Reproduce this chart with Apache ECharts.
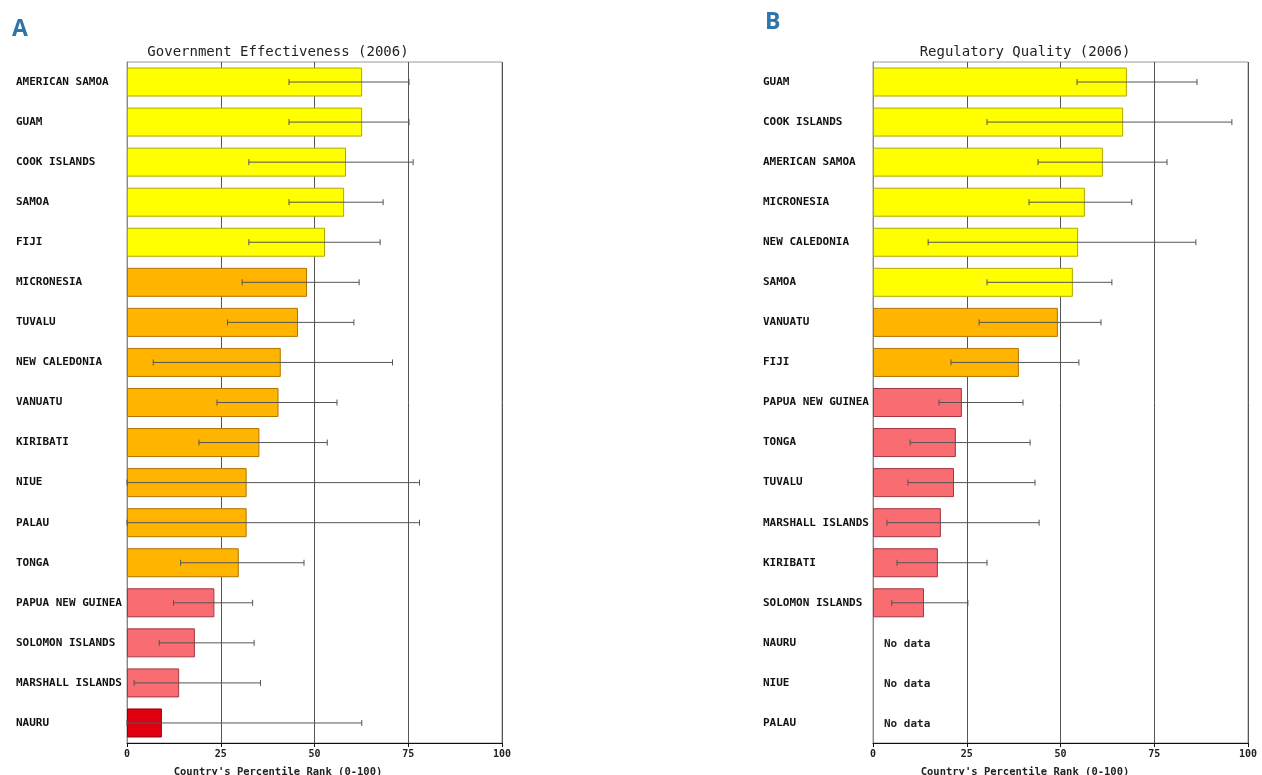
<!DOCTYPE html>
<html><head><meta charset="utf-8">
<script src="https://cdn.jsdelivr.net/npm/echarts@6/dist/echarts.min.js"></script>
<style>html,body{margin:0;padding:0;background:#fff}#c{width:1262px;height:775px}</style>
</head><body><div id="c"></div>
<script>
// Panel A: Government Effectiveness (2006)
const countriesA = ['AMERICAN SAMOA','GUAM','COOK ISLANDS','SAMOA','FIJI','MICRONESIA','TUVALU','NEW CALEDONIA','VANUATU','KIRIBATI','NIUE','PALAU','TONGA','PAPUA NEW GUINEA','SOLOMON ISLANDS','MARSHALL ISLANDS','NAURU'];
const rankA = [62.7,62.7,58.4,57.9,52.8,48.0,45.6,41.0,40.4,35.3,31.9,31.9,29.8,23.3,18.1,13.9,9.3];
const lowA  = [43.2,43.2,32.5,43.2,32.5,30.7,26.8,7.0,24.0,19.2,0.0,0.0,14.3,12.4,8.6,1.9,0.0];
const highA = [75.2,75.2,76.3,68.3,67.5,61.9,60.5,70.8,56.0,53.4,78.0,78.0,47.2,33.5,33.9,35.6,62.6];
const tierA = [1,1,1,1,1,2,2,2,2,2,2,2,2,3,3,3,4];

// Panel B: Regulatory Quality (2006)
const countriesB = ['GUAM','COOK ISLANDS','AMERICAN SAMOA','MICRONESIA','NEW CALEDONIA','SAMOA','VANUATU','FIJI','PAPUA NEW GUINEA','TONGA','TUVALU','MARSHALL ISLANDS','KIRIBATI','SOLOMON ISLANDS','NAURU','NIUE','PALAU'];
const rankB = [67.7,66.7,61.3,56.5,54.7,53.3,49.3,38.9,23.7,22.1,21.6,18.1,17.3,13.6,null,null,null];
const lowB  = [54.4,30.4,44.0,41.6,14.7,30.4,28.3,20.8,17.6,9.9,9.3,3.7,6.4,5.0,null,null,null];
const highB = [86.4,95.7,78.4,69.0,86.1,63.7,60.8,54.9,40.0,41.9,43.2,44.3,30.4,25.3,null,null,null];
const tierB = [1,1,1,1,1,1,2,2,3,3,3,3,3,3,0,0,0];

const xTicks = [0,25,50,75,100];
const titleA = 'Government Effectiveness (2006)';
const titleB = 'Regulatory Quality (2006)';
const xName = "Country's Percentile Rank (0-100)";

const fill = {1:'#FFFF00',2:'#FFB400',3:'#F86C72',4:'#E00010'};
const border = {1:'#B0A800',2:'#B07400',3:'#A03840',4:'#900008'};
const mono = '"DejaVu Sans Mono", "Liberation Mono", monospace';

function barData(vals, tiers){
  return vals.map((v,i)=> v==null ? null : {value:v, itemStyle:{color:fill[tiers[i]], borderColor:border[tiers[i]], borderWidth:1}});
}
function errData(lo, hi){
  const out=[];
  lo.forEach((l,i)=>{ if(l!=null) out.push([l, hi[i], i]); });
  return out;
}
function errRender(params, api){
  const y = api.value(2);
  const p1 = api.coord([api.value(0), y]);
  const p2 = api.coord([api.value(1), y]);
  const st = {stroke:'#555', lineWidth:1};
  return {type:'group', children:[
    {type:'line', shape:{x1:p1[0],y1:p1[1],x2:p2[0],y2:p2[1]}, style:st},
    {type:'line', shape:{x1:p1[0],y1:p1[1]-3,x2:p1[0],y2:p1[1]+3}, style:st},
    {type:'line', shape:{x1:p2[0],y1:p2[1]-3,x2:p2[0],y2:p2[1]+3}, style:st}
  ]};
}
function noDataRender(params, api){
  const p = api.coord([0, api.value(1)]);
  return {type:'text', style:{text:'No data', x:p[0]+11, y:p[1]+1, fill:'#222', font:'bold 11px '+mono, textVerticalAlign:'middle'}};
}
const noDataB = [];
rankB.forEach((v,i)=>{ if(v==null) noDataB.push([0,i]); });

function xAxis(g){
  return {type:'value', gridIndex:g, min:0, max:100, interval:25,
    axisLine:{show:true, lineStyle:{color:'#111'}},
    axisTick:{show:true, length:4, lineStyle:{color:'#111'}},
    axisLabel:{color:'#222', fontFamily:mono, fontSize:10, fontWeight:'bold', margin:6,
      formatter:(v)=> xTicks.indexOf(v)>=0 ? String(v) : ''},
    splitLine:{show:true, lineStyle:{color:'#555', width:1}}};
}
function yAxis(g, cats, margin){
  return {type:'category', gridIndex:g, data:cats, inverse:true,
    axisLine:{show:true, lineStyle:{color:'#888'}}, axisTick:{show:false},
    axisLabel:{align:'left', margin:margin, color:'#111', fontFamily:mono, fontSize:11, fontWeight:'bold'}};
}

const chart = echarts.init(document.getElementById('c'));
chart.setOption({
  animation:false,
  backgroundColor:'#fff',
  title:[
    {text:'A', left:7, top:13, textStyle:{color:'#2E75A8', fontFamily:'"Open Sans", sans-serif', fontWeight:'bold', fontSize:23}},
    {text:'B', left:760, top:6, textStyle:{color:'#2E75A8', fontFamily:'"Open Sans", sans-serif', fontWeight:'bold', fontSize:23}},
    {text:titleA, left:273, top:40, textAlign:'center', textStyle:{color:'#222', fontFamily:mono, fontSize:14, fontWeight:'normal'}},
    {text:titleB, left:1020, top:40, textAlign:'center', textStyle:{color:'#222', fontFamily:mono, fontSize:14, fontWeight:'normal'}},
    {text:xName, left:273, top:762, textAlign:'center', textStyle:{color:'#222', fontFamily:mono, fontSize:10.5, fontWeight:'bold'}},
    {text:xName, left:1020, top:762, textAlign:'center', textStyle:{color:'#222', fontFamily:mono, fontSize:10.5, fontWeight:'bold'}}
  ],
  grid:[
    {left:127, right:760, top:62, bottom:32, show:true, borderColor:'#999', borderWidth:1},
    {left:873, right:14, top:62, bottom:32, show:true, borderColor:'#999', borderWidth:1}
  ],
  xAxis:[xAxis(0), xAxis(1)],
  yAxis:[yAxis(0, countriesA, 111), yAxis(1, countriesB, 110)],
  series:[
    {type:'bar', xAxisIndex:0, yAxisIndex:0, barWidth:29, data:barData(rankA, tierA)},
    {type:'custom', xAxisIndex:0, yAxisIndex:0, renderItem:errRender, encode:{x:[0,1], y:2}, data:errData(lowA, highA), z:5},
    {type:'bar', xAxisIndex:1, yAxisIndex:1, barWidth:29, data:barData(rankB, tierB)},
    {type:'custom', xAxisIndex:1, yAxisIndex:1, renderItem:errRender, encode:{x:[0,1], y:2}, data:errData(lowB, highB), z:5},
    {type:'custom', xAxisIndex:1, yAxisIndex:1, renderItem:noDataRender, encode:{x:0, y:1}, data:noDataB, z:5}
  ]
});
</script>
</body></html>
